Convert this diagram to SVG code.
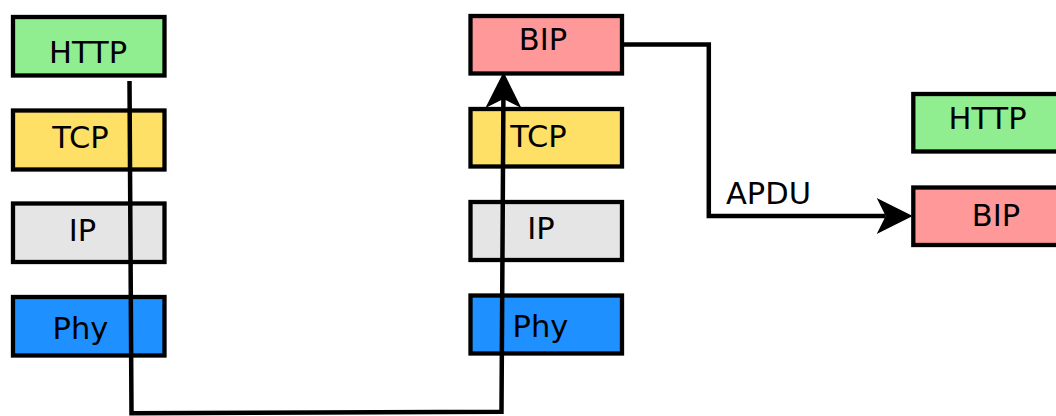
<svg xmlns="http://www.w3.org/2000/svg" width="1056" height="416" viewBox="0 0 1056 416">
  <style>
    .box { stroke: #000; stroke-width: 4.3; }
    .http { fill: #90ee90; }
    .tcp { fill: #ffe066; }
    .ip { fill: #e5e5e5; }
    .phy { fill: #1e90ff; }
    .bip { fill: #ff9999; }
    text { font-family: "DejaVu Sans", sans-serif; font-size: 30.5px; fill: #000; text-anchor: middle; }
    .wire { fill: none; stroke: #000; stroke-width: 4.5; stroke-linejoin: miter; }
  </style>
  <defs>
    <!-- notched arrowhead; the wire ends at the notch (x=9) -->
    <marker id="head" viewBox="0 0 36 36" refX="9" refY="18" markerWidth="36" markerHeight="36" markerUnits="userSpaceOnUse" orient="auto" overflow="visible">
      <path d="M36,18 L0,0 L9,18 L0,36 Z" fill="#000" stroke="none"/>
    </marker>
  </defs>

  <rect width="1056" height="416" fill="#fff"/>

  <!-- client stack -->
  <g id="client-http"><rect class="box http" x="13" y="17" width="151.5" height="58.5"/><text x="88" y="63.3">HTTP</text></g>
  <g id="client-tcp"><rect class="box tcp" x="13" y="110.5" width="151.5" height="59"/><text x="80.5" y="148.3">TCP</text></g>
  <g id="client-ip"><rect class="box ip" x="13" y="203.5" width="151.5" height="58.5"/><text x="82.5" y="240.7">IP</text></g>
  <g id="client-phy"><rect class="box phy" x="13" y="297" width="151.5" height="58.5"/><text x="80.5" y="339.3">Phy</text></g>

  <!-- gateway stack -->
  <g id="gateway-bip"><rect class="box bip" x="470.5" y="16" width="151.5" height="57.5"/><text x="543" y="50">BIP</text></g>
  <g id="gateway-tcp"><rect class="box tcp" x="470.5" y="109" width="151.5" height="57.5"/><text x="538.5" y="146.7">TCP</text></g>
  <g id="gateway-ip"><rect class="box ip" x="470.5" y="202" width="151.5" height="58"/><text x="541" y="239">IP</text></g>
  <g id="gateway-phy"><rect class="box phy" x="470.5" y="295.5" width="151.5" height="58"/><text x="540.5" y="336.7">Phy</text></g>

  <!-- server stack -->
  <g id="server-http"><rect class="box http" x="913.3" y="94" width="151.5" height="57.5"/><text x="987.5" y="129">HTTP</text></g>
  <g id="server-bip"><rect class="box bip" x="913.3" y="187.5" width="151.5" height="57.5"/><text x="996" y="225.7">BIP</text></g>

  <!-- connectors -->
  <g id="connectors">
    <path class="wire" d="M129.5,81 L131.5,413.3 L501.5,411.7 L503.4,99" marker-end="url(#head)"/>
    <path class="wire" d="M624,44.5 H708.8 V216 H885.7" marker-end="url(#head)"/>
    <text x="768.5" y="204.3">APDU</text>
  </g>
</svg>
